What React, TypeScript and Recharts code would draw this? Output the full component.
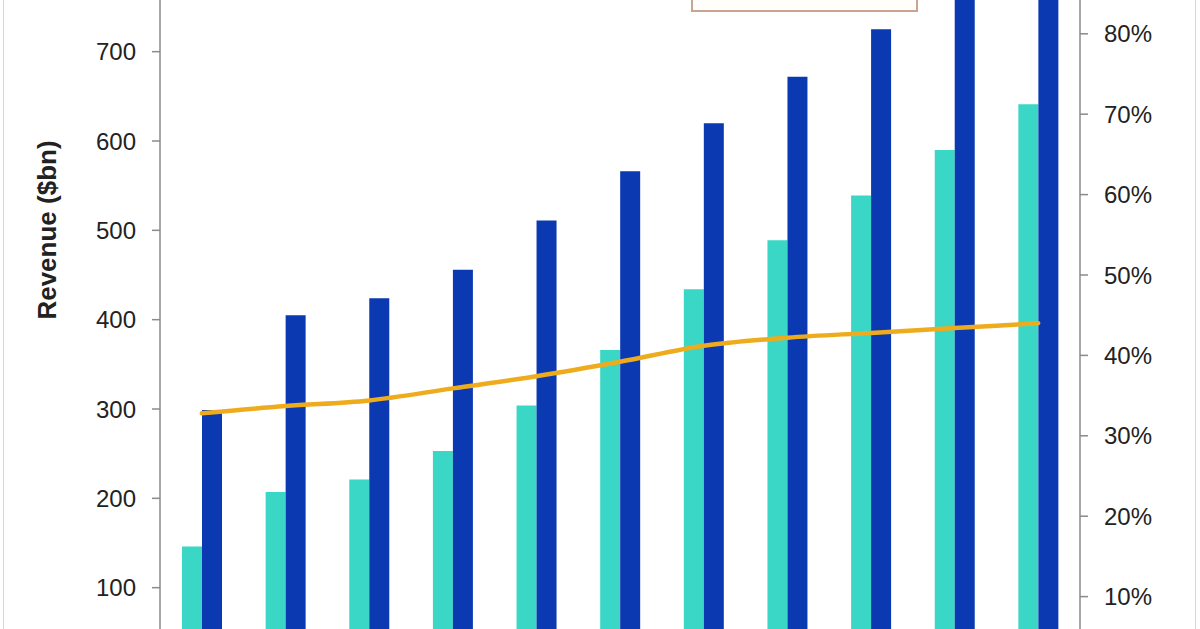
import React from 'react';
import { ComposedChart, Bar, Line, XAxis, YAxis, Legend } from 'recharts';

const categories = ['2020', '2021', '2022', '2023', '2024', '2025', '2026', '2027', '2028', '2029', '2030'];
const revenueA = [146, 207, 221, 253, 304, 366, 434, 489, 539, 590, 641];
const revenueB = [299, 405, 424, 456, 511, 566, 620, 672, 725, 780, 835];
const sharePct = [32.8, 33.7, 34.4, 35.9, 37.4, 39.2, 41.2, 42.2, 42.8, 43.4, 44.0];
const leftTicks = [100, 200, 300, 400, 500, 600, 700];
const rightTicks = [10, 20, 30, 40, 50, 60, 70, 80];

const seriesNames = { a: 'Revenue A', b: 'Revenue B', s: 'Share (RHS)' };

const data = categories.map((c, i) => ({
  cat: c,
  a: revenueA[i],
  b: revenueB[i],
  s: sharePct[i],
}));

const TEAL = '#3ad7c7';
const BLUE = '#0b39b2';
const GOLD = '#eeac1c';
const AXIS = '#8a8a8a';
const FONT = '"Liberation Sans", Arial, Helvetica, sans-serif';

// Legend frame: only its lower edge falls inside the visible crop of the reference.
const LegendBox = () => (
  <div
    style={{
      boxSizing: 'border-box',
      width: 227,
      height: 150,
      border: '2px solid #c9a58f',
      background: '#fffefb',
    }}
  />
);

const YLabel = () => (
  <text
    x={56}
    y={430}
    transform="rotate(-90, 56, 430)"
    textAnchor="middle"
    fontFamily={FONT}
    fontSize={26}
    fontWeight="bold"
    fill="#222"
  >
    Revenue ($bn)
  </text>
);

export default function App() {
  return (
    <div
      style={{
        position: 'fixed',
        top: 0,
        left: 0,
        width: 1200,
        height: 629,
        overflow: 'hidden',
        background: '#ffffff',
      }}
    >
      <div
        style={{
          position: 'absolute',
          left: 3,
          top: 0,
          width: 1193,
          height: 629,
          borderLeft: '1px solid #d6d6d6',
          borderRight: '1px solid #d6d6d6',
          boxSizing: 'border-box',
        }}
      />
      <div style={{ position: 'absolute', top: -200, left: 0 }}>
        <ComposedChart
          width={1200}
          height={1000}
          data={data}
          margin={{ top: 73, right: 20, bottom: 93, left: 0 }}
          barGap={0}
          style={{ fontFamily: FONT }}
        >
          <XAxis
            dataKey="cat"
            height={30}
            tick={false}
            axisLine={{ stroke: AXIS }}
            tickLine={false}
          />
          <YAxis
            yAxisId="l"
            width={160}
            domain={[0, 900]}
            ticks={leftTicks}
            interval={0}
            tickSize={8}
            tickMargin={16}
            tick={{ fontSize: 24, fill: '#222' }}
            axisLine={{ stroke: AXIS, strokeWidth: 1.5 }}
            tickLine={{ stroke: AXIS, strokeWidth: 1.5 }}
            label={<YLabel />}
          />
          <YAxis
            yAxisId="r"
            orientation="right"
            width={100}
            domain={[0, 100]}
            ticks={rightTicks}
            interval={0}
            tickSize={8}
            tickMargin={16}
            tickFormatter={(v: number) => `${v}%`}
            tick={{ fontSize: 24, fill: '#222' }}
            axisLine={{ stroke: AXIS, strokeWidth: 1.5 }}
            tickLine={{ stroke: AXIS, strokeWidth: 1.5 }}
          />
          <Legend
            layout="horizontal"
            align="center"
            verticalAlign="middle"
            content={<LegendBox />}
            wrapperStyle={{ left: 691, top: 62, width: 227, height: 150 }}
          />
          <Bar yAxisId="l" dataKey="a" name={seriesNames.a} fill={TEAL} barSize={20} isAnimationActive={false} />
          <Bar yAxisId="l" dataKey="b" name={seriesNames.b} fill={BLUE} barSize={20} isAnimationActive={false} />
          <Line
            yAxisId="r"
            type="monotone"
            dataKey="s"
            name={seriesNames.s}
            stroke={GOLD}
            strokeWidth={4.5}
            strokeLinecap="round"
            dot={false}
            isAnimationActive={false}
          />
        </ComposedChart>
      </div>
    </div>
  );
}
